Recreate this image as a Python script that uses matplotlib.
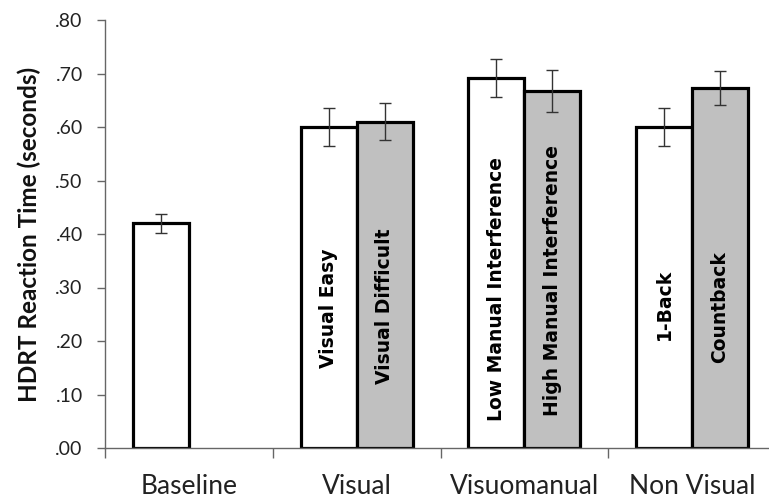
import matplotlib
matplotlib.use("Agg")
from matplotlib import pyplot as plt
import numpy as np

# Data
groups = ["Baseline", "Visual", "Visuomanual", "Non Visual"]
first_names = ["", "Visual Easy", "Low Manual Interference", "1-Back"]
second_names = [None, "Visual Difficult", "High Manual Interference", "Countback"]
first_vals = [0.420, 0.600, 0.692, 0.600]
first_err = [0.018, 0.035, 0.036, 0.035]
second_vals = [np.nan, 0.610, 0.667, 0.673]
second_err = [np.nan, 0.035, 0.039, 0.031]
yticks = [0.0, 0.1, 0.2, 0.3, 0.4, 0.5, 0.6, 0.7, 0.8]

# where the rotated labels sit inside the bars (layout only)
first_text_y = [None, 0.262, 0.297, 0.269]
second_text_y = [None, 0.265, 0.314, 0.264]

fig = plt.figure(figsize=(7.69, 5.04), dpi=100)
ax = fig.add_axes([105 / 769, 56 / 504, 671 / 769, 428 / 504])

x = np.arange(len(groups))
bw = 1 / 3
edge = dict(edgecolor="black", linewidth=2.3)
err_kw = dict(ecolor="#333333", elinewidth=1.0, capsize=4.5, capthick=1.0)

ax.bar(x - bw / 2, first_vals, bw, color="white", yerr=first_err,
       error_kw=err_kw, zorder=2, **edge)
ax.bar(x[1:] + bw / 2, second_vals[1:], bw, color="#c0c0c0", yerr=second_err[1:],
       error_kw=err_kw, zorder=2, **edge)

lab_font = dict(rotation=90, ha="center", va="center", fontsize=13.5,
                fontweight="bold", family="DejaVu Sans", color="black", zorder=3)
for i in range(1, len(groups)):
    ax.text(x[i] - bw / 2, first_text_y[i], first_names[i], **lab_font)
    ax.text(x[i] + bw / 2, second_text_y[i], second_names[i], **lab_font)

ax.set_xlim(-0.5, len(groups) - 0.5)
ax.set_ylim(0, 0.8)
ax.set_yticks(yticks)
ax.set_yticklabels(["." + ("%.2f" % v).split(".")[1] for v in yticks],
                   family="Lato", fontsize=14, color="#222222")

# category boundaries get the tick marks, labels sit in the middle
ax.set_xticks(np.arange(-0.5, len(groups), 1.0))
ax.set_xticklabels([])
ax.set_xticks(x, minor=True)
ax.set_xticklabels(groups, minor=True, family="Lato", fontsize=19, color="#222222")
ax.tick_params(axis="x", which="major", direction="out", length=7, width=1, color="#666666")
ax.tick_params(axis="x", which="minor", length=0, pad=19)
ax.tick_params(axis="y", direction="out", length=6, width=1, color="#666666", pad=10)

for s in ["top", "right"]:
    ax.spines[s].set_visible(False)
for s in ["left", "bottom"]:
    ax.spines[s].set_color("#666666")
    ax.spines[s].set_linewidth(1)

ax.set_ylabel("HDRT Reaction Time (seconds)", family="Lato", fontweight="bold",
              fontsize=17.5, color="#111111", labelpad=10)

fig.savefig("out.png", dpi=100)
